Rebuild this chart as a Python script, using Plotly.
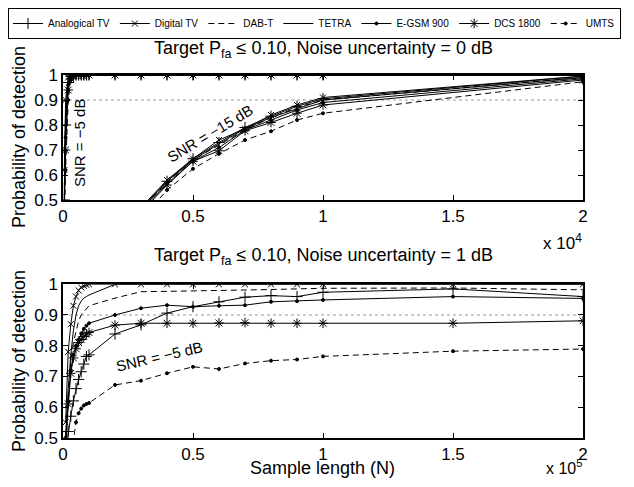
import plotly.graph_objects as go

# sample lengths
n_top_5 = [50, 100, 200, 300, 400, 500, 600, 700, 800, 900, 1000,
           2000, 3000, 4000, 5000, 6000, 7000, 8000, 9000, 10000, 20000]
n_top_15 = [1000, 2000, 3000, 4000, 5000, 6000, 7000, 8000, 9000, 10000, 20000]
n_bottom = [1000, 2000, 3000, 4000, 5000, 6000, 7000, 8000, 9000, 10000,
            20000, 30000, 40000, 50000, 60000, 70000, 80000, 90000, 100000,
            150000, 200000]

names = ["Analogical TV", "Digital TV", "DAB-T", "TETRA", "E-GSM 900", "DCS 1800", "UMTS"]

# top plot, SNR = -5 dB, noise uncertainty 0 dB
top5_analog = [0.50, 0.80, 0.97, 0.995, 1, 1, 1, 1, 1, 1, 1, 1, 1, 1, 1, 1, 1, 1, 1, 1, 1]
top5_digital = [0.62, 0.90, 0.99, 1, 1, 1, 1, 1, 1, 1, 1, 1, 1, 1, 1, 1, 1, 1, 1, 1, 1]
top5_dab = [0.55, 0.85, 0.98, 1, 1, 1, 1, 1, 1, 1, 1, 1, 1, 1, 1, 1, 1, 1, 1, 1, 1]
top5_tetra = [0.52, 0.82, 0.975, 0.998, 1, 1, 1, 1, 1, 1, 1, 1, 1, 1, 1, 1, 1, 1, 1, 1, 1]
top5_egsm = [0.48, 0.75, 0.96, 0.99, 1, 1, 1, 1, 1, 1, 1, 1, 1, 1, 1, 1, 1, 1, 1, 1, 1]
top5_dcs = [0.45, 0.70, 0.94, 0.985, 0.998, 1, 1, 1, 1, 1, 1, 1, 1, 1, 1, 1, 1, 1, 1, 1, 1]
top5_umts = [0.40, 0.62, 0.90, 0.98, 0.995, 1, 1, 1, 1, 1, 1, 1, 1, 1, 1, 1, 1, 1, 1, 1, 1]

# top plot, SNR = -15 dB
top15_analog = [0.20, 0.33, 0.46, 0.575, 0.665, 0.73, 0.79, 0.835, 0.875, 0.905, 0.995]
top15_digital = [0.21, 0.34, 0.47, 0.58, 0.665, 0.74, 0.785, 0.84, 0.88, 0.91, 0.996]
top15_dab = [0.20, 0.33, 0.46, 0.57, 0.66, 0.72, 0.78, 0.83, 0.87, 0.90, 0.99]
top15_tetra = [0.20, 0.33, 0.465, 0.575, 0.66, 0.725, 0.785, 0.83, 0.865, 0.90, 0.99]
top15_egsm = [0.19, 0.32, 0.455, 0.565, 0.655, 0.71, 0.78, 0.82, 0.86, 0.89, 0.985]
top15_dcs = [0.19, 0.32, 0.45, 0.56, 0.655, 0.697, 0.777, 0.81, 0.847, 0.88, 0.98]
top15_umts = [0.17, 0.29, 0.42, 0.54, 0.625, 0.685, 0.74, 0.775, 0.82, 0.847, 0.973]

# bottom plot, SNR = -5 dB, noise uncertainty 1 dB
bot_analog = [0.45, 0.52, 0.57, 0.62, 0.66, 0.69, 0.715, 0.74, 0.765, 0.77,
              0.838, 0.868, 0.906, 0.927, 0.943, 0.958, 0.963, 0.96, 0.974, 0.985, 0.96]
bot_digital = [0.55, 0.78, 0.87, 0.93, 0.96, 0.98, 0.99, 0.995, 0.998, 1.0,
               1, 1, 1, 1, 1, 1, 1, 1, 1, 1, 1]
bot_dab = [0.50, 0.64, 0.75, 0.81, 0.85, 0.88, 0.90, 0.91, 0.92, 0.93,
           0.955, 0.976, 0.977, 0.978, 0.979, 0.981, 0.983, 0.985, 0.987, 0.988, 0.982]
bot_tetra = [0.50, 0.66, 0.77, 0.85, 0.90, 0.93, 0.945, 0.955, 0.96, 0.965,
             1, 1, 1, 1, 1, 1, 1, 1, 1, 1, 1]
bot_egsm = [0.50, 0.62, 0.72, 0.77, 0.80, 0.82, 0.84, 0.855, 0.865, 0.873,
            0.90, 0.922, 0.932, 0.927, 0.93, 0.932, 0.943, 0.945, 0.949, 0.96, 0.954]
bot_dcs = [0.45, 0.61, 0.71, 0.76, 0.79, 0.81, 0.82, 0.83, 0.838, 0.843,
           0.867, 0.873, 0.873, 0.873, 0.874, 0.875, 0.873, 0.873, 0.873, 0.873, 0.881]
bot_umts = [0.25, 0.35, 0.43, 0.49, 0.55, 0.58, 0.595, 0.605, 0.61, 0.613,
            0.672, 0.686, 0.71, 0.731, 0.724, 0.742, 0.751, 0.755, 0.765, 0.782, 0.789]

pd_target = 0.9

styles = [
    dict(dash="solid", symbol="cross-thin", size=8),
    dict(dash="solid", symbol="x-thin", size=6),
    dict(dash="6px,4px", symbol=None, size=0),
    dict(dash="solid", symbol=None, size=0),
    dict(dash="solid", symbol="circle", size=3),
    dict(dash="solid", symbol="asterisk", size=8),
    dict(dash="6px,4px", symbol="circle", size=3),
]

# page has an 8px body margin, so the figure is a bit smaller than the window
OFF = 8
W, H = 634 - 2 * OFF, 487 - 2 * OFF
FONT = "Liberation Sans, Arial, Helvetica, sans-serif"


def px(x):
    return (x - OFF) / W


def py(y):
    return 1 - (y - OFF) / H


fig = go.Figure()

groups = [
    (n_top_5, [top5_analog, top5_digital, top5_dab, top5_tetra, top5_egsm, top5_dcs, top5_umts], "x", "y", False),
    (n_top_15, [top15_analog, top15_digital, top15_dab, top15_tetra, top15_egsm, top15_dcs, top15_umts], "x", "y", False),
    (n_bottom, [bot_analog, bot_digital, bot_dab, bot_tetra, bot_egsm, bot_dcs, bot_umts], "x2", "y2", True),
]

for xs, series, xa, ya, show in groups:
    for name, ys, st in zip(names, series, styles):
        if st["symbol"]:
            mode = "lines+markers"
            marker = dict(symbol=st["symbol"], size=st["size"], color="black",
                          line=dict(color="black", width=1))
        else:
            mode = "lines"
            marker = None
        fig.add_trace(go.Scatter(
            x=xs, y=ys, name=name, mode=mode, marker=marker,
            line=dict(color="black", width=1, dash=st["dash"]),
            xaxis=xa, yaxis=ya, legendgroup=name, showlegend=show,
        ))

# target Pd lines
for xr, yr in [("x", "y"), ("x2", "y2")]:
    fig.add_shape(type="line", xref=xr + " domain", yref=yr, x0=0, x1=1,
                  y0=pd_target, y1=pd_target, layer="below",
                  line=dict(color="#9a9a9a", width=1, dash="dot"))

axis_common = dict(
    showline=True, linecolor="black", linewidth=1.5, mirror="ticks",
    ticks="inside", ticklen=5, tickwidth=1, tickcolor="black",
    showgrid=False, zeroline=False,
    tickfont=dict(family=FONT, size=17, color="black"),
)

fig.update_layout(
    width=W, height=H,
    margin=dict(l=0, r=0, t=0, b=0, autoexpand=False),
    paper_bgcolor="white", plot_bgcolor="white",
    font=dict(family=FONT, color="black"),
    xaxis=dict(domain=[px(63), px(583)], range=[0, 20000], anchor="y",
               tickvals=[0, 5000, 10000, 15000, 20000],
               ticktext=["0", "0.5", "1", "1.5", "2"], **axis_common),
    yaxis=dict(domain=[py(200), py(75)], range=[0.5, 1], anchor="x",
               tickvals=[0.5, 0.6, 0.7, 0.8, 0.9, 1],
               ticktext=["0.5", "0.6", "0.7", "0.8", "0.9", "1"], **axis_common),
    xaxis2=dict(domain=[px(63), px(583)], range=[0, 200000], anchor="y2",
                tickvals=[0, 50000, 100000, 150000, 200000],
                ticktext=["0", "0.5", "1", "1.5", "2"], **axis_common),
    yaxis2=dict(domain=[py(437.7), py(284.3)], range=[0.5, 1], anchor="x2",
                tickvals=[0.5, 0.6, 0.7, 0.8, 0.9, 1],
                ticktext=["0.5", "0.6", "0.7", "0.8", "0.9", "1"], **axis_common),
    legend=dict(orientation="h", x=0, y=1, xanchor="left", yanchor="top",
                bordercolor="black", borderwidth=1, bgcolor="white",
                font=dict(family=FONT, size=10, color="black"),
                itemwidth=30, tracegroupgap=0),
    showlegend=True,
)

ann = [
    dict(x=px(323), y=py(50), text="Target P<sub>fa</sub> ≤ 0.10, Noise uncertainty = 0 dB", size=18),
    dict(x=px(323), y=py(256), text="Target P<sub>fa</sub> ≤ 0.10, Noise uncertainty = 1 dB", size=18),
    dict(x=px(19), y=py(137), text="Probability of detection", size=18, angle=-90),
    dict(x=px(19), y=py(361), text="Probability of detection", size=18, angle=-90),
    dict(x=px(322), y=py(468), text="Sample length (N)", size=18),
    dict(x=px(80), y=py(143), text="SNR = −5 dB", size=15, angle=-90),
    dict(x=px(210), y=py(134), text="SNR = −15 dB", size=15, angle=-31),
    dict(x=px(159), y=py(356), text="SNR = −5 dB", size=15, angle=-13),
]
for a in ann:
    fig.add_annotation(x=a["x"], y=a["y"], xref="paper", yref="paper", text=a["text"],
                       showarrow=False, textangle=a.get("angle", 0),
                       font=dict(family=FONT, size=a["size"], color="black"),
                       xanchor="center", yanchor="middle")

fig.add_annotation(x=px(584), y=py(242), xref="paper", yref="paper", text="x 10<sup>4</sup>",
                   showarrow=False, xanchor="right", yanchor="middle",
                   font=dict(family=FONT, size=17, color="black"))
fig.add_annotation(x=px(584), y=0, xref="paper", yref="paper", text="x 10<sup>5</sup>",
                   showarrow=False, xanchor="right", yanchor="bottom",
                   font=dict(family=FONT, size=16, color="black"))

fig.write_html("out.html")
